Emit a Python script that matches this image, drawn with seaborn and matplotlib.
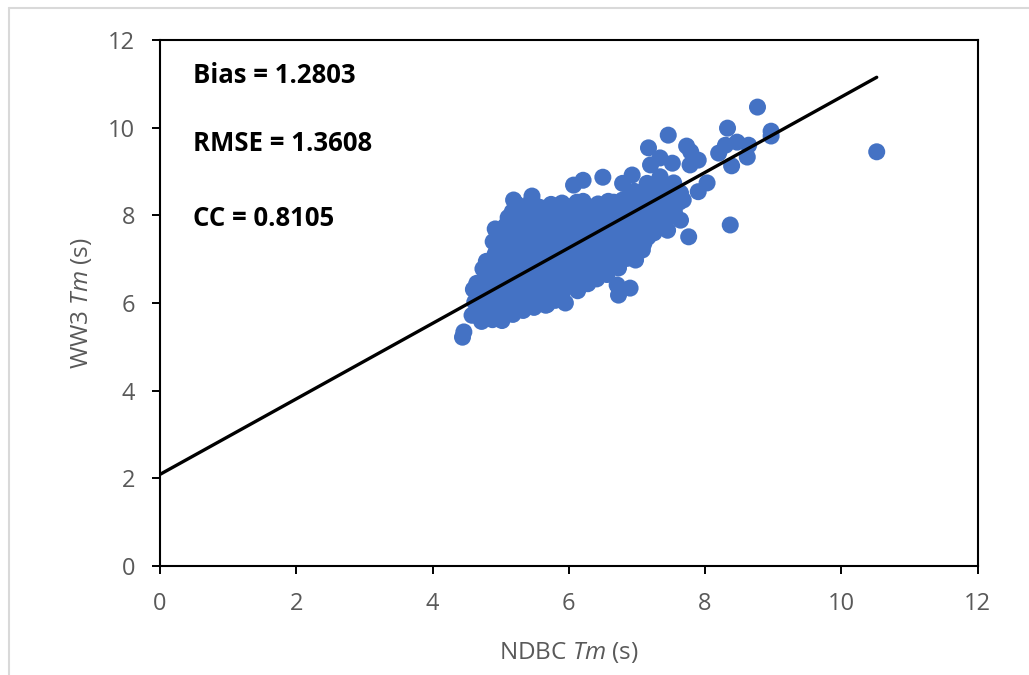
import pandas as pd
import matplotlib
matplotlib.use("Agg")
import matplotlib.pyplot as plt
from matplotlib.lines import Line2D
import seaborn as sns

# NDBC vs WW3 mean wave period (s)
ndbc_tm = [
    # main cluster, left to right
    4.58, 4.62, 4.60,
    4.72, 4.75, 4.70, 4.76, 4.74,
    4.88, 4.90, 4.86, 4.91, 4.87, 4.92, 4.89, 4.92,
    5.02, 5.05, 5.01, 5.06, 5.03, 5.04, 5.02, 5.07,
    5.18, 5.20, 5.16, 5.21, 5.17, 5.22, 5.19, 5.20, 5.17, 5.19,
    5.33, 5.36, 5.32, 5.35, 5.37, 5.33, 5.36, 5.34, 5.36, 5.46,
    5.49, 5.52, 5.48, 5.51, 5.50, 5.53, 5.49, 5.52, 5.50,
    5.68, 5.65, 5.67, 5.64, 5.68, 5.66, 5.63, 5.67,
    5.80, 5.83, 5.81, 5.84, 5.80, 5.83, 5.81, 5.84,
    5.95, 5.98, 5.96, 5.99, 5.97, 5.95, 5.98, 5.96,
    6.13, 6.10, 6.12, 6.14, 6.11, 6.13, 6.10, 6.12,
    6.28, 6.26, 6.29, 6.25, 6.28, 6.26, 6.29,
    6.41, 6.43, 6.40, 6.44, 6.42, 6.40, 6.43,
    6.56, 6.58, 6.55, 6.59, 6.57, 6.55, 6.58,
    6.73, 6.71, 6.74, 6.70, 6.72, 6.75,
    6.86, 6.88, 6.85, 6.89, 6.87, 6.88,
    7.03, 7.00, 7.04, 7.01, 7.03,
    7.16, 7.18, 7.15, 7.19, 7.17,
    7.31, 7.34, 7.30, 7.33,
    7.46, 7.48, 7.45,
    7.62, 7.58,
    # in-between points of the dense core
    4.66, 4.67, 4.65,
    4.81, 4.80, 4.82, 4.81, 4.79,
    4.96, 4.97, 4.95, 4.96, 4.98, 4.95, 4.97,
    5.11, 5.10, 5.12, 5.11, 5.09, 5.12, 5.10, 5.11,
    5.26, 5.27, 5.25, 5.26, 5.28, 5.25, 5.27, 5.26, 5.24,
    5.42, 5.41, 5.43, 5.42, 5.40, 5.43, 5.41, 5.42, 5.44,
    5.58, 5.59, 5.57, 5.58, 5.60, 5.57, 5.59, 5.58,
    5.74, 5.73, 5.75, 5.74, 5.72, 5.75, 5.73, 5.74,
    5.90, 5.91, 5.89, 5.90, 5.92, 5.89, 5.91, 5.90,
    6.05, 6.04, 6.06, 6.05, 6.03, 6.06, 6.04,
    6.20, 6.21, 6.19, 6.20, 6.22, 6.19, 6.21,
    6.35, 6.34, 6.36, 6.35, 6.33, 6.36,
    6.50, 6.51, 6.49, 6.50, 6.52, 6.49,
    6.65, 6.64, 6.66, 6.65, 6.63, 6.66,
    6.80, 6.81, 6.79, 6.80, 6.82, 6.79,
    6.95, 6.94, 6.96, 6.95, 6.93, 6.96,
    7.10, 7.11, 7.09, 7.10, 7.12,
    7.25, 7.24, 7.26, 7.25,
    7.40, 7.41, 7.39, 7.40,
    7.55, 7.56,
    # edges and outliers
    4.46, 4.44, 6.07, 6.21, 6.50, 6.79, 6.93, 7.15, 7.34, 7.54,
    7.20, 7.34, 7.52, 7.78, 7.17, 7.46, 7.73, 7.79, 7.90, 7.90,
    8.03, 8.37, 7.76, 7.64, 7.45, 7.27, 7.64, 7.68, 6.71, 6.73,
    6.90, 6.98, 7.08, 6.32, 6.17, 5.66,
    8.20, 8.30, 8.47, 8.64, 8.62, 8.39, 8.33, 8.77, 8.97, 8.97, 10.52,
]
ww3_tm = [
    5.72, 6.02, 6.31,
    5.58, 5.88, 6.18, 6.49, 6.78,
    5.62, 5.93, 6.22, 6.55, 6.84, 7.12, 7.40, 7.69,
    5.60, 5.90, 6.24, 6.52, 6.86, 7.17, 7.47, 7.76,
    5.74, 6.02, 6.33, 6.63, 6.92, 7.21, 7.52, 7.83, 8.08, 8.35,
    5.83, 6.12, 6.41, 6.70, 7.02, 7.30, 7.61, 7.92, 8.17, 8.44,
    5.90, 6.20, 6.50, 6.79, 7.10, 7.40, 7.71, 8.00, 8.24,
    5.96, 6.27, 6.58, 6.90, 7.20, 7.49, 7.80, 8.08,
    6.06, 6.36, 6.66, 6.96, 7.26, 7.56, 7.86, 8.14,
    6.00, 6.38, 6.70, 7.00, 7.31, 7.60, 7.90, 8.20,
    6.28, 6.56, 6.86, 7.15, 7.45, 7.76, 8.05, 8.30,
    6.44, 6.72, 7.02, 7.30, 7.60, 7.91, 8.20,
    6.55, 6.82, 7.10, 7.40, 7.71, 8.00, 8.26,
    6.65, 6.92, 7.22, 7.50, 7.80, 8.10, 8.32,
    6.80, 7.10, 7.38, 7.68, 7.98, 8.22,
    7.02, 7.30, 7.60, 7.90, 8.18, 8.42,
    7.20, 7.50, 7.80, 8.10, 8.38,
    7.50, 7.80, 8.10, 8.40, 8.62,
    7.72, 8.00, 8.30, 8.56,
    7.95, 8.22, 8.48,
    8.30, 8.55,
    5.85, 6.15, 6.45,
    5.75, 6.05, 6.35, 6.65, 6.95,
    5.75, 6.08, 6.38, 6.70, 7.00, 7.30, 7.55,
    5.80, 6.10, 6.40, 6.75, 7.05, 7.33, 7.62, 7.95,
    5.90, 6.20, 6.50, 6.80, 7.10, 7.40, 7.70, 8.00, 8.25,
    6.00, 6.28, 6.58, 6.88, 7.18, 7.48, 7.78, 8.06, 8.30,
    6.08, 6.38, 6.68, 6.98, 7.30, 7.60, 7.90, 8.18,
    6.18, 6.50, 6.80, 7.10, 7.40, 7.70, 8.00, 8.25,
    6.22, 6.52, 6.82, 7.12, 7.42, 7.72, 8.02, 8.28,
    6.40, 6.70, 7.00, 7.30, 7.60, 7.92, 8.20,
    6.55, 6.85, 7.15, 7.45, 7.75, 8.05, 8.32,
    6.62, 6.90, 7.20, 7.50, 7.82, 8.10,
    6.72, 7.00, 7.30, 7.62, 7.92, 8.20,
    6.85, 7.15, 7.45, 7.75, 8.05, 8.30,
    7.00, 7.25, 7.55, 7.85, 8.10, 8.35,
    7.15, 7.42, 7.72, 8.00, 8.30, 8.55,
    7.35, 7.65, 7.95, 8.25, 8.50,
    7.60, 7.88, 8.18, 8.45,
    7.82, 8.10, 8.38, 8.62,
    8.08, 8.40,
    5.34, 5.22, 8.69, 8.80, 8.87, 8.73, 8.92, 8.73, 8.88, 8.74,
    9.15, 9.31, 9.19, 9.15, 9.54, 9.83, 9.58, 9.45, 9.26, 8.54,
    8.74, 7.78, 7.51, 7.89, 7.66, 7.66, 8.51, 8.35, 6.41, 6.18,
    6.34, 6.98, 7.21, 6.60, 6.46, 5.95,
    9.42, 9.60, 9.67, 9.60, 9.33, 9.13, 9.99, 10.47, 9.92, 9.81, 9.45,
]

# fitted line end points
fit_x = [0.0, 10.52]
fit_y = [2.09, 11.15]

stats_labels = ["Bias = 1.2803", "RMSE = 1.3608", "CC = 0.8105"]
stats_y = [11.18, 9.65, 7.92]

ticks = [0, 2, 4, 6, 8, 10, 12]

sns.set_theme(style="white")
plt.rcParams["font.family"] = ["Open Sans", "DejaVu Sans"]
plt.rcParams["mathtext.fontset"] = "custom"
plt.rcParams["mathtext.rm"] = "Open Sans"
plt.rcParams["mathtext.it"] = "Open Sans:italic"

gray = "#595959"
df = pd.DataFrame({"ndbc": ndbc_tm, "ww3": ww3_tm})

fig = plt.figure(figsize=(10.29, 6.75), dpi=100)
ax = fig.add_axes([0.1555, 0.1615, 0.7945, 0.7792])

sns.scatterplot(data=df, x="ndbc", y="ww3", ax=ax, s=150, color="#4472C4",
                edgecolor="none", linewidth=0, alpha=1, zorder=2)
sns.lineplot(x=fit_x, y=fit_y, ax=ax, color="black", linewidth=2.4, zorder=3)

for lbl, yy in zip(stats_labels, stats_y):
    ax.text(0.48, yy, lbl, fontsize=18.5, fontweight="bold", color="black",
            va="center", ha="left")

ax.set_xlim(0, 12)
ax.set_ylim(0, 12)
ax.set_xticks(ticks)
ax.set_yticks(ticks)
ax.tick_params(axis="both", direction="out", length=6, width=1.4, color="black",
               labelsize=17, labelcolor=gray, bottom=True, left=True)
ax.tick_params(axis="x", pad=13)
ax.tick_params(axis="y", pad=12)
for sp in ax.spines.values():
    sp.set_color("black")
    sp.set_linewidth(1.5)

ax.set_xlabel(r"NDBC $\mathit{Tm}$ (s)", fontsize=17.5, color=gray, labelpad=17)
ax.set_ylabel(r"WW3 $\mathit{Tm}$ (s)", fontsize=17.5, color=gray, labelpad=10)

# light frame around the chart area
fig.add_artist(Line2D([0.0088, 1.0], [0.988, 0.988], color="#d9d9d9", linewidth=1.5))
fig.add_artist(Line2D([0.0088, 0.0088], [0.0, 0.988], color="#d9d9d9", linewidth=1.5))

fig.savefig("out.png", dpi=100)
